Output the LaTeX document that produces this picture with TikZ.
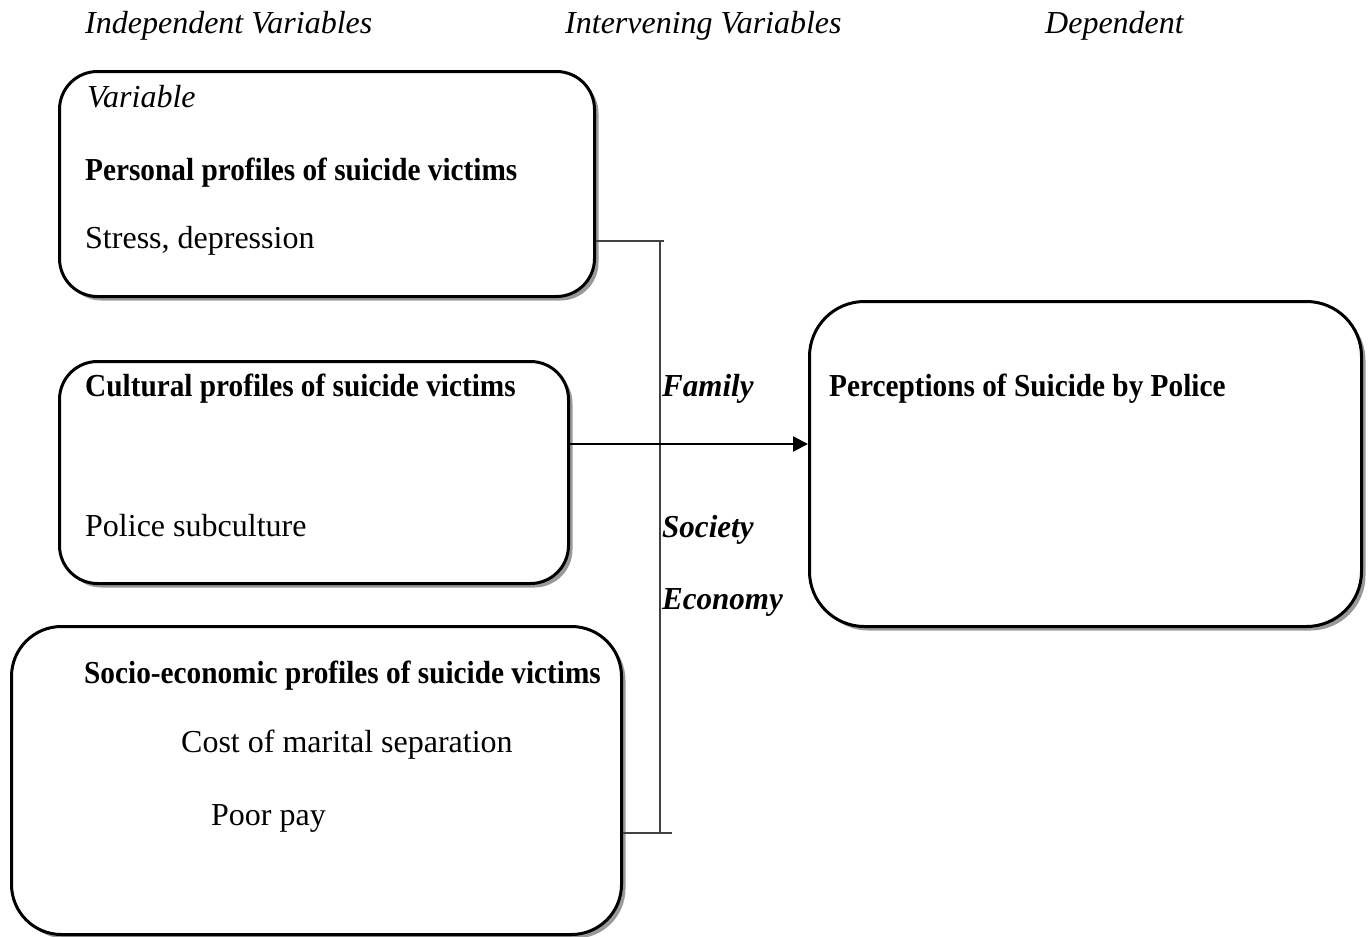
\documentclass[tikz,border=0pt]{standalone}
\usepackage{fontspec}
\setmainfont{Liberation Serif}
\usetikzlibrary{shadows,arrows.meta}
\newcommand\condtxt[1]{\scalebox{0.915}[1]{#1}}
\begin{document}
\begin{tikzpicture}[x=1pt,y=-1pt,
  box/.style={draw=black, line width=3pt, fill=white, rounded corners=#1, inner sep=0pt, anchor=north west,
    drop shadow={shadow xshift=4pt, shadow yshift=-4pt, fill=black!40, opacity=1}},
  txt/.style={anchor=base west, inner sep=0pt, font=\fontsize{32}{38}\selectfont},
  it/.style={txt, font=\fontsize{32}{38}\selectfont\itshape},
  bf/.style={txt, font=\fontsize{32}{38}\selectfont\bfseries},
  bi/.style={txt, font=\fontsize{32}{38}\selectfont\bfseries\itshape},
  thin/.style={draw=black!75, line width=1.5pt}]
\useasboundingbox (0,0) rectangle (1369,937);
% header
\node[it] (h1) at (85,33) {Independent Variables};
\node[it] (h2) at (565,33) {Intervening Variables};
\node[it] (h3) at (1045,33) {Dependent};
% boxes
\node[box=38pt, minimum width=535pt, minimum height=225pt] (b1) at (58,70) {};
\node[box=38pt, minimum width=509pt, minimum height=222pt] (b2) at (58,360) {};
\node[box=50pt, minimum width=610pt, minimum height=308pt] (b3) at (10,625) {};
\node[box=55pt, minimum width=552pt, minimum height=325pt] (b4) at (808,300) {};
% box texts
\node[it] (v) at (87,107) {Variable};
\node[bf] (p1) at (85,180) {\condtxt{Personal profiles of suicide victims}};
\node[txt] (p2) at (85,248) {Stress, depression};
\node[bf] (c1) at (85,396) {\condtxt{Cultural profiles of suicide victims}};
\node[txt] (c2) at (85,536) {Police subculture};
\node[bf] (s1) at (84,683) {\condtxt{Socio-economic profiles of suicide victims}};
\node[txt] (s2) at (181,752) {Cost of marital separation};
\node[txt] (s3) at (211,825) {Poor pay};
\node[bf] (d1) at (829,396) {\condtxt{Perceptions of Suicide by Police}};
% intervening
\node[bi] (f) at (662,396) {\scalebox{0.97}[1]{Family}};
\node[bi] (so) at (662,537) {\scalebox{0.97}[1]{Society}};
\node[bi] (ec) at (662,609) {\scalebox{0.97}[1]{Economy}};
% bracket
\coordinate (bt) at (660,241);
\coordinate (btr) at (664,241);
\coordinate (bb) at (660,833);
\coordinate (bbr) at (672,833);
\draw[thin] (b1.east |- bt) -- (btr);
\draw[thin] (bt) -- (bb);
\draw[thin] (b3.east |- bb) -- (bbr);
% arrow
\coordinate (ar) at (700,444);
\draw[line width=2.5pt, -{Triangle[length=15pt,width=15pt]}] (b2.east |- ar) -- (b4.west |- ar);
\end{tikzpicture}
\end{document}
